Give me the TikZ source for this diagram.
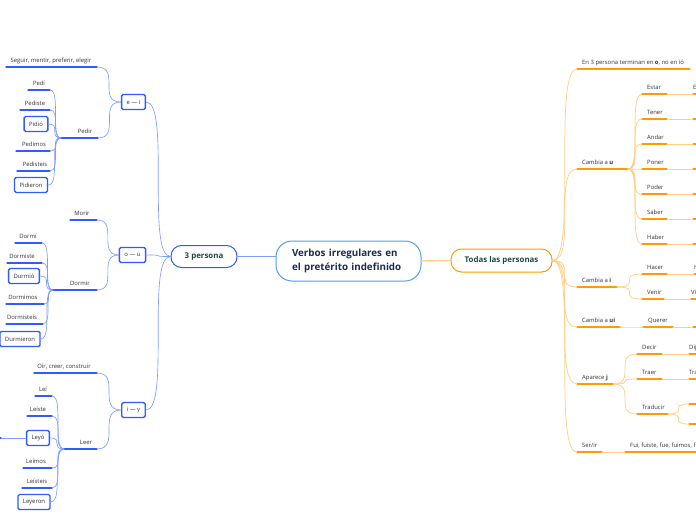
\documentclass[tikz,border=0pt]{standalone}
\usepackage{fontspec}
\setmainfont{Open Sans}
\usepackage{tikz}
\usetikzlibrary{calc}

\definecolor{mmblue}{HTML}{2F5CFF}
\definecolor{mmbluelt}{HTML}{7D9DFF}
\definecolor{mmorange}{HTML}{FF9A00}
\definecolor{mmorangelt}{HTML}{FFCF85}
\definecolor{mmsky}{HTML}{4FA0E4}
\definecolor{mmnavy}{HTML}{1C2B50}
\definecolor{mmgreen}{HTML}{1D4A3C}
\definecolor{mmtext}{HTML}{333333}

\begin{document}
\begin{tikzpicture}[x=1pt, y=-1pt, line cap=round,
      rootnode/.style={draw=mmsky, line width=1pt, rounded corners=16pt, fill=white,
                  minimum width=145pt, minimum height=40pt, text width=113pt, inner xsep=0pt,
                  align=left, font=\bfseries\fontsize{9.8}{14}\selectfont, text=mmnavy},
      branch/.style={draw=#1, line width=1pt, rounded corners=10.5pt, fill=white,
                  minimum height=22pt, inner sep=0pt, font=\bfseries\fontsize{7.9}{9}\selectfont, text=mmgreen},
      bbox/.style={draw=mmblue, line width=1.4pt, rounded corners=1.5pt, fill=white, minimum height=15pt,
                  inner xsep=5pt, inner ysep=0pt, font=\fontsize{5.9}{7}\selectfont, text=mmtext},
      lbl/.style={inner sep=0pt, font=\fontsize{5.9}{7}\selectfont, text=mmtext},
      bul/.style={draw=mmblue, line width=1.2pt},
      oul/.style={draw=mmorange, line width=1.2pt},
      blink/.style={draw=mmbluelt, line width=0.65pt},
      olink/.style={draw=mmorangelt, line width=0.75pt}]

    \useasboundingbox (0,0) rectangle (696,520);
    \clip (0,0) rectangle (696,520);

    % Topic macros: #1=name, then underline from x to x, y, (text x), text
    \newcommand{\bleaf}[6]{%
        \coordinate (#1-l) at (#2,#4);
        \coordinate (#1-r) at (#3,#4);
        \node[lbl, anchor=base] (#1) at (#5,#4-5) {#6};
        \draw[bul] (#1-l) -- (#1-r);
    }
    \newcommand{\oleaf}[5]{%
        \coordinate (#1-l) at (#2,#4);
        \coordinate (#1-r) at (#3,#4);
        \node[lbl, anchor=base west] (#1) at (#2+5,#4-5) {#5};
        \draw[oul] (#1-l) -- (#1-r);
    }
    \newcommand{\ostub}[4]{%
        \coordinate (#1-l) at (#2,#3);
        \node[lbl, anchor=base west] (#1) at (#2,#3-5) {#4};
        \draw[oul] (#1-l) -- ++(12,0);
    }
    \newcommand{\mmlink}[3]{\draw[#1] (#2) .. controls (#2 -| #3) and (#3 -| #2) .. (#3);}

    % Centre and main branches
    \node[rootnode] (centre) at (348.5,261) {Verbos irregulares en\\el pretérito indefinido};
    \node[branch=mmblue, minimum width=66pt] (p3) at (204,256.5) {3 persona};
    \node[branch=mmorange, minimum width=101pt, minimum height=23pt] (todas) at (501.5,260.5) {Todas las personas};
    \draw[mmbluelt, line width=1.4pt] (p3.east) -- (p3.east -| centre.west);
    \draw[mmorangelt, line width=1.4pt] (centre.east) -- (todas.west);

    % 3 persona
    \node[bbox] (ei) at (133.5,102) {e — i};
    \node[bbox] (ou) at (132.5,255) {o — u};
    \node[bbox] (iy) at (133.5,410) {i — y};
    \mmlink{blink}{p3.west}{ei.east}
    \mmlink{blink}{p3.west}{ou.east}
    \mmlink{blink}{p3.west}{iy.east}

    %      name       from  to   y    text x
    \bleaf{seguir}    {6}  {97} {67}  {51} {Seguir, mentir, preferir, elegir}
    \bleaf{pedir}     {61} {98} {138} {85} {Pedir}
    \bleaf{pedi}      {28} {50} {90}  {39} {Pedí}
    \bleaf{pediste}   {20} {50} {110} {35} {Pediste}
    \bleaf{pedimos}   {16} {50} {151} {34} {Pedimos}
    \bleaf{pedisteis} {17} {50} {171} {35} {Pedisteis}
    \node[bbox] (pidio)    at (36,124) {Pidió};
    \node[bbox] (pidieron) at (31,185) {Pidieron};
    \mmlink{blink}{ei.west}{seguir-r}
    \mmlink{blink}{ei.west}{pedir-r}
    \foreach \c in {pedi-r, pediste-r, pidio.east, pedimos-r, pedisteis-r, pidieron.east}
        {\mmlink{blink}{pedir-l}{\c}}

    \bleaf{morir}      {70} {97} {220} {82} {Morir}
    \bleaf{dormir}     {53} {97} {290} {80} {Dormir}
    \bleaf{dormi}      {15} {42} {243} {28} {Dormí}
    \bleaf{dormiste}   {7}  {42} {263} {22} {Dormiste}
    \bleaf{dormimos}   {6}  {44} {304} {23} {Dormimos}
    \bleaf{dormisteis} {6}  {43} {324} {22} {Dormisteis}
    \node[bbox] (durmio)    at (24,276) {Durmió};
    \node[bbox] (durmieron) at (20,339) {Durmieron};
    \mmlink{blink}{ou.west}{morir-r}
    \mmlink{blink}{ou.west}{dormir-r}
    \foreach \c in {dormi-r, dormiste-r, durmio.east, dormimos-r, dormisteis-r, durmieron.east}
        {\mmlink{blink}{dormir-l}{\c}}

    \bleaf{oir}      {34} {97} {373} {64} {Oír, creer, construir}
    \bleaf{leer}     {64} {97} {449} {86} {Leer}
    \bleaf{lei}      {35} {52} {396} {43} {Leí}
    \bleaf{leiste}   {27} {52} {416} {38} {Leíste}
    \bleaf{leimos}   {23} {52} {468} {36} {Leímos}
    \bleaf{leisteis} {22} {52} {488} {37} {Leísteis}
    \node[bbox] (leyo)    at (38,438) {Leyó};
    \node[bbox] (leyeron) at (34,502) {Leyeron};
    \mmlink{blink}{iy.west}{oir-r}
    \mmlink{blink}{iy.west}{leer-r}
    \foreach \c in {lei-r, leiste-r, leyo.east, leimos-r, leisteis-r, leyeron.east}
        {\mmlink{blink}{leer-l}{\c}}
    \coordinate (leyo-out) at (1,438);
    \draw[blink] (leyo.west) -- (leyo-out);
    \draw[bul] (leyo-out) -- ++(-6,0);

    % Todas las personas
    \oleaf{en3}     {577} {690} {69}  {En 3 persona terminan en \textbf{o}, no en ió}
    \oleaf{camu}    {577} {628} {169} {Cambia a \textbf{u}}
    \oleaf{cami}    {577} {617} {287} {Cambia a \textbf{i}}
    \oleaf{camui}   {577} {620} {327} {Cambia a \textbf{ui}}
    \oleaf{aparece} {577} {613} {384} {Aparece \textbf{j}}
    \oleaf{serir}   {577} {602} {452} {Ser/ir}
    \foreach \c in {en3-l, camu-l, cami-l, camui-l, aparece-l, serir-l}
        {\mmlink{olink}{todas.east}{\c}}

    \oleaf{estar} {642} {667} {94}  {Estar}
    \oleaf{tener} {642} {667} {119} {Tener}
    \oleaf{andar} {642} {667} {144} {Andar}
    \oleaf{poner} {642} {667} {169} {Poner}
    \oleaf{poder} {642} {667} {194} {Poder}
    \oleaf{saber} {642} {667} {219} {Saber}
    \oleaf{haber} {642} {667} {244} {Haber}
    \foreach \c in {estar, tener, andar, poner, poder, saber, haber}
        {\mmlink{olink}{camu-r}{\c-l}}

    \oleaf{hacer}  {642} {667} {274} {Hacer}
    \oleaf{venir}  {642} {664} {299} {Venir}
    \oleaf{querer} {643} {673} {327} {Querer}
    \mmlink{olink}{cami-r}{hacer-l}
    \mmlink{olink}{cami-r}{venir-l}
    \mmlink{olink}{camui-r}{querer-l}

    \oleaf{decir}    {637} {662} {354} {Decir}
    \oleaf{traer}    {637} {662} {379} {Traer}
    \oleaf{traducir} {637} {668} {414} {Traducir}
    \foreach \c in {decir, traer, traducir}
        {\mmlink{olink}{aparece-r}{\c-l}}

    \oleaf{fui} {625} {720} {452} {Fui, fuiste, fue, fuimos, fuisteis, fueron}
    \draw[olink] (serir-r) -- (fui-l);

    % next level, cut off by the right edge
    \ostub{estuve} {693} {94}  {Estuve}
    \ostub{tuve}   {693} {119} {}
    \ostub{anduve} {693} {144} {}
    \ostub{puse}   {693} {169} {}
    \ostub{pude}   {693} {194} {}
    \ostub{supe}   {693} {219} {}
    \ostub{hube}   {693} {244} {}
    \ostub{hice}   {694} {274} {Hice}
    \ostub{vine}   {691} {299} {Vine}
    \ostub{quise}  {693} {327} {}
    \ostub{dije}   {689} {354} {Dije}
    \ostub{traje}  {689} {379} {Traje}
    \foreach \a/\b in {estar/estuve, tener/tuve, andar/anduve, poner/puse, poder/pude, saber/supe,
                       haber/hube, hacer/hice, venir/vine, querer/quise, decir/dije, traer/traje}
        {\draw[olink] (\a-r) -- (\b-l);}
    \ostub{tradA} {689} {404} {}
    \ostub{tradB} {689} {424} {}
    \mmlink{olink}{traducir-r}{tradA-l}
    \mmlink{olink}{traducir-r}{tradB-l}

\end{tikzpicture}
\end{document}
